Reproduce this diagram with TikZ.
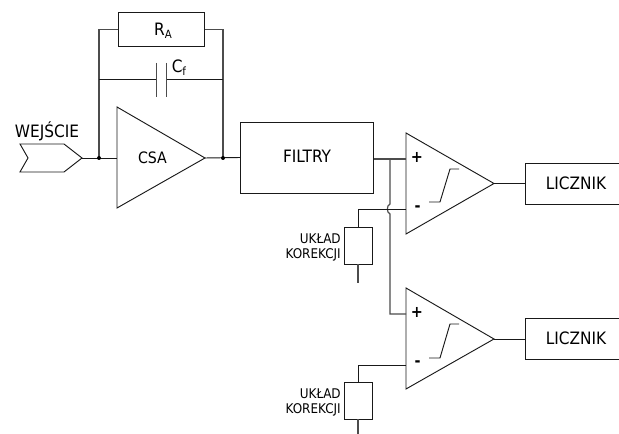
\documentclass[tikz,border=0pt]{standalone}
\usepackage{fontspec}
\setmainfont{DejaVu Sans Condensed}
\tikzset{
 x=0.75pt,y=-0.75pt,
 wire/.style={draw=black!70,line width=0.9pt},
 thin wire/.style={draw=black!90,line width=0.7pt},
 shapeline/.style={draw=black!90,line width=0.7pt},
 lab/.style={inner sep=0pt,font=\fontsize{12.8}{14}\selectfont},
 labs/.style={inner sep=0pt,font=\fontsize{11.8}{13}\selectfont},
 small/.style={inner sep=0pt,align=right,font=\fontsize{10}{11.5}\selectfont},
 sign/.style={inner sep=0pt,font=\bfseries\fontsize{12}{12}\selectfont},
 dot/.style={circle,fill=black,inner sep=0pt,minimum size=3pt},
}
\begin{document}
\begin{tikzpicture}
\useasboundingbox (0,0) rectangle (619,434);
% input
\draw[shapeline] (20,144) -- (64,144) -- (82,158) -- (64,172) -- (20,172) -- (28,158) -- cycle;
\coordinate (intip) at (82,158);
\node[lab,anchor=base] (wej) at (47,138) {WEJŚCIE};
% CSA
\draw[shapeline] (117,107) -- (117,208) -- (205,158) -- cycle;
\coordinate (csain) at (117,158);
\coordinate (csaout) at (205,158);
\node[labs] (csa) at (152.5,157.5) {CSA};
% R_A
\node[shapeline,minimum width=65pt,minimum height=25.5pt,inner sep=0pt] (ra) at (161.5,29.5) {};
\node[lab,anchor=base] (ral) at (163,36) {R\raisebox{-0.3ex}{\fontsize{8.5}{9}\selectfont A}};
% junctions
\coordinate (j1) at (99,158);
\coordinate (j2) at (223,158);
\draw[wire] (j1) |- (ra.west);
\draw[wire] (j2) |- (ra.east);
% capacitor
\coordinate (cap1) at (156.5,79);
\coordinate (cap2) at (166.5,79);
\coordinate (capl) at (99,79);
\coordinate (capr) at (223,79);
\draw[thin wire] (capl) -- (cap1);
\draw[thin wire] (cap2) -- (capr);
\draw[wire] (156.5,63) -- (156.5,97);
\draw[wire] (166.5,63) -- (166.5,97);
\node[lab,anchor=base west] (cf) at (171.5,73) {C\raisebox{-0.3ex}{\fontsize{8.5}{9}\selectfont f}};
% FILTRY
\node[shapeline,minimum width=99.5pt,minimum height=53.25pt,inner sep=0pt] (fil) at (307.2,157.5) {};
\node[lab] (fill) at (307,156.5) {FILTRY};
\draw[thin wire] (intip) -- (csain);
\draw[thin wire] (csaout) -- (fil.west);
\node[dot] (d1) at (j1) {};
\node[dot] (d2) at (j2) {};
% comparators
\draw[shapeline] (406,133) -- (406,234) -- (494,183.5) -- cycle;
\draw[shapeline] (406,288) -- (406,389) -- (494,339) -- cycle;
\coordinate (c1p) at (406,159);
\coordinate (c1m) at (406,209);
\coordinate (c2p) at (406,314);
\coordinate (c2m) at (406,365);
\coordinate (c1o) at (494,183.5);
\coordinate (c2o) at (494,339);
\node[sign] (p1) at (417,157.5) {+};
\node[sign] (m1) at (417.5,208.5) {-};
\node[sign] (p2) at (417,312.5) {+};
\node[sign] (m2) at (417.5,364) {-};
\draw[thin wire] (429,202) -- (440,202) -- (450,169) -- (459,169);
\draw[thin wire] (429,358) -- (440,358) -- (450,324) -- (459,324);
% splits
\draw[wire] (fil.east |- c1p) -- (c1p);
\draw[wire] (390,159) -- (390,204) .. controls (386.5,205) and (386.5,213) .. (390,214) -- (390,314) -- (c2p);
% correction 1
\node[shapeline,minimum width=21pt,minimum height=27.75pt,inner sep=0pt] (k1) at (358,245.5) {};
\coordinate (k1e) at (358,283);
\draw[thin wire] (c1m) -- (358,209) -- (k1.north);
\draw[wire] (k1.south) -- (k1e);
\node[small,anchor=east] (k1l) at (341,247.5) {UKŁAD\\KOREKCJI};
% correction 2
\node[shapeline,minimum width=21pt,minimum height=27.75pt,inner sep=0pt] (k2) at (358,400.5) {};
\coordinate (k2e) at (358,434);
\draw[thin wire] (c2m) -- (358,365) -- (k2.north);
\draw[wire] (k2.south) -- (k2e);
\node[small,anchor=east] (k2l) at (341,402.5) {UKŁAD\\KOREKCJI};
% counters
\node[shapeline,minimum width=72.75pt,minimum height=30.75pt,inner sep=0pt] (l1) at (573.5,183.5) {};
\node[shapeline,minimum width=72.75pt,minimum height=30.75pt,inner sep=0pt] (l2) at (573.5,338.5) {};
\node[lab] at (576,183) {LICZNIK};
\node[lab] at (576,338) {LICZNIK};
\draw[thin wire] (c1o) -- (l1.west);
\draw[thin wire] (c2o) -- (c2o -| l2.west);
\end{tikzpicture}
\end{document}
